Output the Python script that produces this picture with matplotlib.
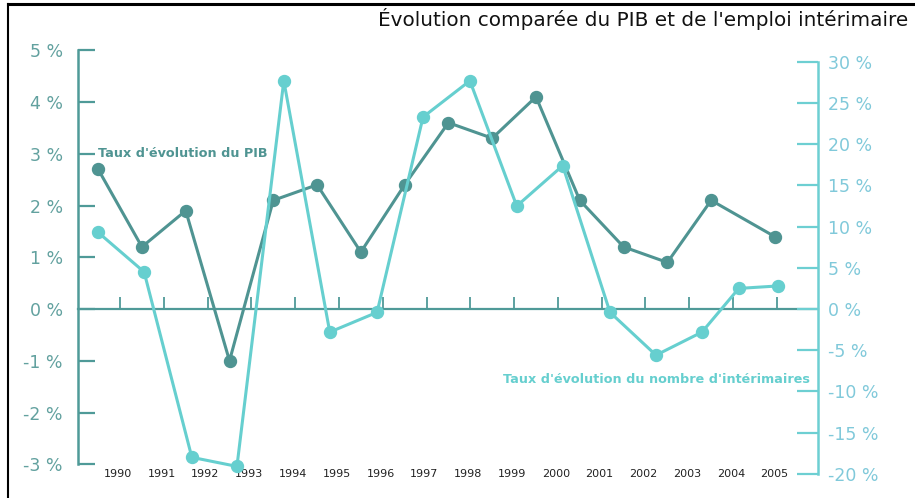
import matplotlib
matplotlib.use("Agg")
from matplotlib import pyplot as plt
from matplotlib.lines import Line2D
import matplotlib.transforms as mtransforms
from matplotlib.ticker import FuncFormatter

plt.rcParams['font.family'] = ['DejaVu Sans']

# --- data -------------------------------------------------------------
years = list(range(1990, 2006))
year_labels = [str(y) for y in years]

# PIB growth (%), left axis; points sit half a year before each tick
pib_pos = [1989.5, 1990.5, 1991.5, 1992.5, 1993.5, 1994.5, 1995.5, 1996.5,
           1997.5, 1998.5, 1999.5, 2000.5, 2001.5, 2002.5, 2003.5, 2004.95]
pib = [2.7, 1.2, 1.9, -1.0, 2.1, 2.4, 1.1, 2.4, 3.6, 3.3, 4.1, 2.1, 1.2, 0.9, 2.1, 1.4]

# temporary employment growth (%), right axis
int_pos = [1989.5, 1990.55, 1991.64, 1992.67, 1993.74, 1994.79, 1995.87, 1996.92,
           1997.99, 1999.06, 2000.11, 2001.19, 2002.24, 2003.29, 2004.13, 2005.02]
interim = [9.3, 4.5, -18.0, -19.1, 27.7, -2.8, -0.4, 23.3,
           27.7, 12.5, 17.4, -0.4, -5.6, -2.8, 2.5, 2.8]

left_ticks = [-3, -2, -1, 0, 1, 2, 3, 4, 5]
right_ticks = [-20, -15, -10, -5, 0, 5, 10, 15, 20, 25, 30]

c_pib = '#4f9492'
c_int = '#66cfcf'
c_left = '#4f9a98'
c_left_lab = '#62a19f'
c_right = '#6dcfd2'
c_right_lab = '#80c9da'

W, H = 915, 498
fig = plt.figure(figsize=(W / 100, H / 100), dpi=100)
fig.patch.set_facecolor('white')

# axes box in pixels: left spine x=78, right spine x=818, y from 40 to 480
ax = fig.add_axes([78 / W, (H - 480) / H, (818 - 78) / W, (480 - 40) / H])
ax.set_facecolor('none')
ax.set_xlim(1989.04, 2005.94)
ax.set_ylim(-3.304, 5.198)

ax.plot(pib_pos, pib, color=c_pib, lw=2.2, marker='o', markersize=8.6, zorder=3,
        clip_on=False)

for s in ['top', 'right']:
    ax.spines[s].set_visible(False)
ax.spines['left'].set_bounds(-3, 5)
ax.spines['left'].set_color(c_left)
ax.spines['left'].set_linewidth(1.8)
ax.spines['bottom'].set_position(('data', 0))
ax.spines['bottom'].set_color(c_left)
ax.spines['bottom'].set_linewidth(1.6)

ax.set_yticks(left_ticks)
ax.yaxis.set_major_formatter(FuncFormatter(lambda v, p: f"{v:g} %"))
ax.tick_params(axis='y', direction='in', length=12.5, width=1.6, color=c_left,
               labelcolor=c_left_lab, labelsize=12.5, pad=11)
ax.set_xticks(years)
ax.tick_params(axis='x', direction='in', length=8.5, width=1.3, color=c_left,
               labelbottom=False)

# year labels along the bottom
trans = mtransforms.blended_transform_factory(ax.transData, ax.transAxes)
for y, lab in zip(years, year_labels):
    ax.text(y - 0.05, 0.013, lab, transform=trans, ha='center', va='center',
            fontsize=8, color='#222222')

ax.text(1989.5, 3.0, "Taux d'évolution du PIB", color=c_pib, fontsize=9.2,
        fontweight='bold', ha='left', va='center')

ax2 = ax.twinx()
ax2.set_ylim(-20.75, 32.65)
ax2.plot(int_pos, interim, color=c_int, lw=2.2, marker='o', markersize=8.6, zorder=3,
         clip_on=False)
for s in ['top', 'left', 'bottom']:
    ax2.spines[s].set_visible(False)
ax2.spines['right'].set_bounds(-20, 30)
ax2.spines['right'].set_color(c_right)
ax2.spines['right'].set_linewidth(1.8)
ax2.set_yticks(right_ticks)
ax2.yaxis.set_major_formatter(FuncFormatter(lambda v, p: f"{v:g} %"))
ax2.tick_params(axis='y', direction='in', length=15, width=1.6, color=c_right,
                labelcolor=c_right_lab, labelsize=12.5, pad=7)

ax2.text(2005.75, -8.5, "Taux d'évolution du nombre d'intérimaires", color=c_int,
         fontsize=9.2, fontweight='bold', ha='right', va='center')

fig.text(378 / W, 1 - 19 / H, "Évolution comparée du PIB et de l'emploi intérimaire",
         fontsize=14.4, color='#111111', ha='left', va='center')

# frame lines of the original page
fig.add_artist(Line2D([8 / W, 1], [1 - 4 / H, 1 - 4 / H], color='black', lw=2.2,
                      transform=fig.transFigure))
fig.add_artist(Line2D([8 / W, 8 / W], [0, 1 - 4 / H], color='black', lw=1.5,
                      transform=fig.transFigure))

fig.savefig('out.png', dpi=100, facecolor='white')
